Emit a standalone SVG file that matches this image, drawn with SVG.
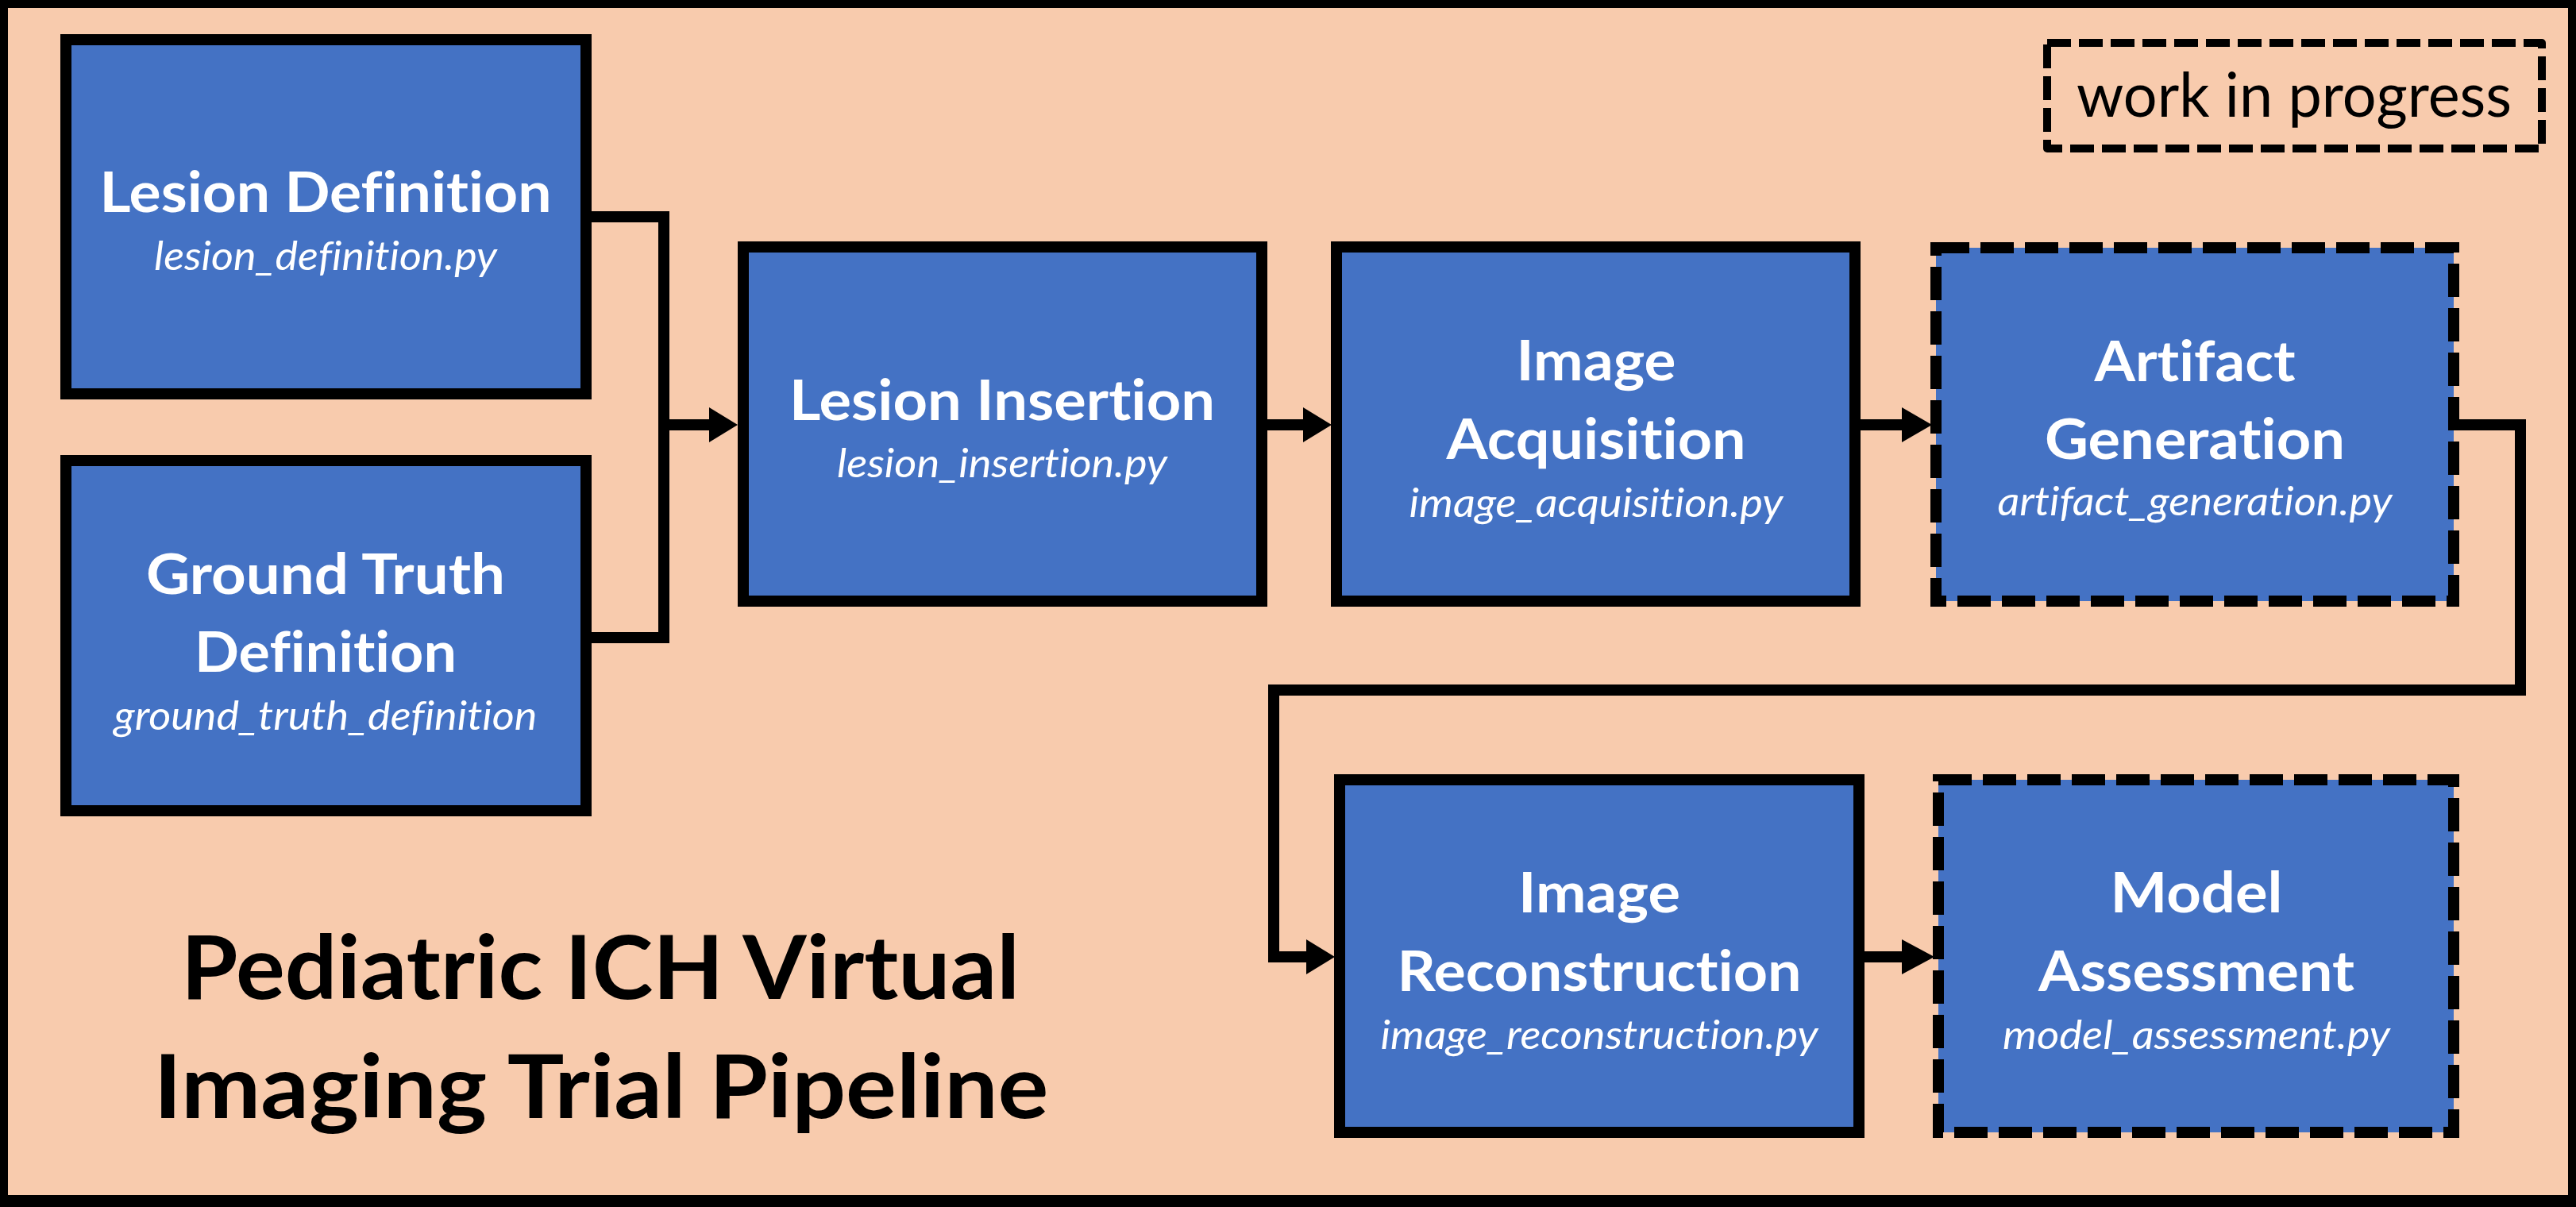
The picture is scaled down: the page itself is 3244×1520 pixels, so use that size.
<svg xmlns="http://www.w3.org/2000/svg" width="3244" height="1520" viewBox="0 0 3244 1520">
<style>
text{font-variant-ligatures:none;font-feature-settings:"liga" 0,"clig" 0}
.box{fill:#4472C4;stroke:#000;stroke-width:14;stroke-linejoin:miter}
.dash{stroke-dasharray:42 14}
.t{font-family:Lato,"Liberation Sans",sans-serif;font-weight:700;font-size:71px;fill:#fff;text-anchor:middle}
.s{font-family:Lato,"Liberation Sans",sans-serif;font-style:italic;font-weight:400;font-size:50px;fill:#fff;text-anchor:middle}
.big{font-family:Lato,"Liberation Sans",sans-serif;font-weight:700;font-size:112px;fill:#000;text-anchor:middle}
.wip{font-family:Lato,"Liberation Sans",sans-serif;font-weight:400;font-size:77px;fill:#000;text-anchor:middle}
.conn{fill:none;stroke:#000;stroke-width:14;stroke-linejoin:miter;stroke-linecap:butt}
.head{fill:#000}
</style>
<rect x="0" y="0" width="3244" height="1520" fill="#000"/>
<rect x="10" y="10" width="3224" height="1495" fill="#F8CBAD"/>

<g id="connectors">
<path class="conn" d="M745 273 H836 V803 H745"/>
<path class="conn" d="M836 535 H895"/>
<polygon class="head" points="893,513 929,535 893,557"/>
<path class="conn" d="M1596 535 H1643"/>
<polygon class="head" points="1641,513 1677,535 1641,557"/>
<path class="conn" d="M2343 535 H2397"/>
<polygon class="head" points="2395,513 2433,535 2395,557"/>
<path class="conn" d="M3097 535 H3174 V869 H1604 V1205 H1647"/>
<polygon class="head" points="1645,1183 1681,1205 1645,1227"/>
<path class="conn" d="M2348 1205 H2397"/>
<polygon class="head" points="2395,1183 2436,1205 2395,1227"/>
</g>

<g id="lesion-definition">
<rect class="box" x="83" y="50" width="655" height="446"/>
<text class="t" x="410" y="267" textLength="569" lengthAdjust="spacingAndGlyphs">Lesion Definition</text>
<text class="s" x="410" y="340" textLength="432" lengthAdjust="spacingAndGlyphs">lesion_definition.py</text>
</g>

<g id="ground-truth-definition">
<rect class="box" x="83" y="580" width="655" height="441"/>
<text class="t" x="410" y="748" textLength="452" lengthAdjust="spacingAndGlyphs">Ground Truth</text>
<text class="t" x="410" y="846" textLength="330" lengthAdjust="spacingAndGlyphs">Definition</text>
<text class="s" x="410" y="919" textLength="533" lengthAdjust="spacingAndGlyphs">ground_truth_definition</text>
</g>

<g id="lesion-insertion">
<rect class="box" x="936" y="311" width="653" height="446"/>
<text class="t" x="1262" y="529" textLength="536" lengthAdjust="spacingAndGlyphs">Lesion Insertion</text>
<text class="s" x="1262" y="601" textLength="416" lengthAdjust="spacingAndGlyphs">lesion_insertion.py</text>
</g>

<g id="image-acquisition">
<rect class="box" x="1683" y="311" width="653" height="446"/>
<text class="t" x="2010" y="479" textLength="201" lengthAdjust="spacingAndGlyphs">Image</text>
<text class="t" x="2010" y="578" textLength="377" lengthAdjust="spacingAndGlyphs">Acquisition</text>
<text class="s" x="2010" y="651" textLength="471" lengthAdjust="spacingAndGlyphs">image_acquisition.py</text>
</g>

<g id="artifact-generation">
<rect class="box dash" x="2438" y="312" width="652" height="445"/>
<text class="t" x="2764" y="480" textLength="253" lengthAdjust="spacingAndGlyphs">Artifact</text>
<text class="t" x="2764" y="578" textLength="378" lengthAdjust="spacingAndGlyphs">Generation</text>
<text class="s" x="2764" y="649" textLength="497" lengthAdjust="spacingAndGlyphs">artifact_generation.py</text>
</g>

<g id="image-reconstruction">
<rect class="box" x="1687" y="982" width="654" height="444"/>
<text class="t" x="2014" y="1149" textLength="204" lengthAdjust="spacingAndGlyphs">Image</text>
<text class="t" x="2014" y="1248" textLength="509" lengthAdjust="spacingAndGlyphs">Reconstruction</text>
<text class="s" x="2014" y="1321" textLength="551" lengthAdjust="spacingAndGlyphs">image_reconstruction.py</text>
</g>

<g id="model-assessment">
<rect class="box dash" x="2441" y="982" width="649" height="444"/>
<text class="t" x="2766" y="1149" textLength="217" lengthAdjust="spacingAndGlyphs">Model</text>
<text class="t" x="2766" y="1248" textLength="398" lengthAdjust="spacingAndGlyphs">Assessment</text>
<text class="s" x="2766" y="1321" textLength="488" lengthAdjust="spacingAndGlyphs">model_assessment.py</text>
</g>

<g id="work-in-progress">
<rect x="2578" y="54" width="623" height="133" fill="none" stroke="#000" stroke-width="10" stroke-dasharray="30 10" stroke-linejoin="round"/>
<text class="wip" x="2889" y="147" textLength="548" lengthAdjust="spacingAndGlyphs">work in progress</text>
</g>

<g id="title">
<text class="big" x="756" y="1258" textLength="1056" lengthAdjust="spacingAndGlyphs">Pediatric ICH Virtual</text>
<text class="big" x="757" y="1408" textLength="1127" lengthAdjust="spacingAndGlyphs">Imaging Trial Pipeline</text>
</g>
</svg>
